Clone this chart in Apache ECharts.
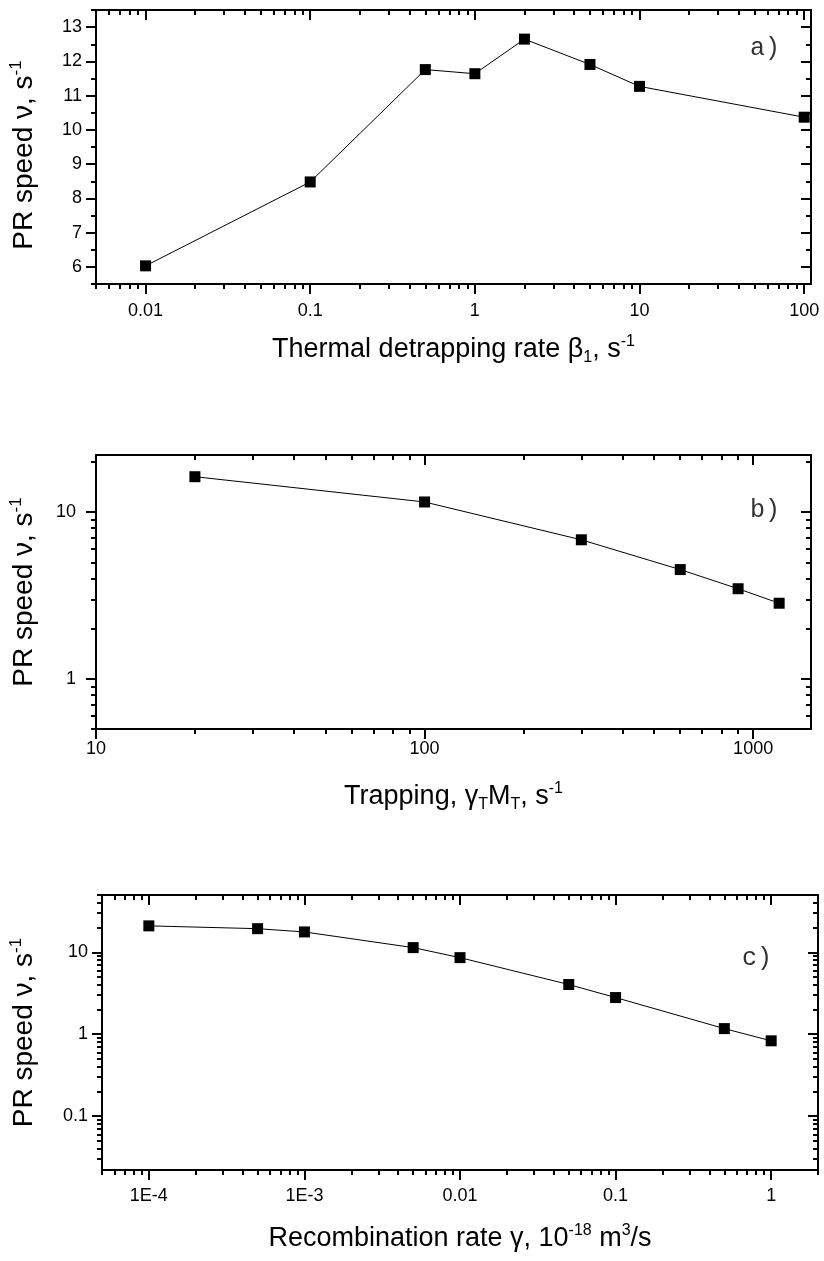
<!DOCTYPE html>
<html>
<head>
<meta charset="utf-8">
<script src="https://cdn.jsdelivr.net/npm/echarts@6/dist/echarts.min.js"></script>
<style>
  html, body { margin: 0; padding: 0; background: #fff; }
  #chart { width: 824px; height: 1261px; }
</style>
</head>
<body>
<div id="chart"></div>
<script>
// (a) PR speed vs thermal detrapping rate
const detrapRate = [0.01, 0.1, 0.5, 1, 2, 5, 10, 100];
const speedA = [6.03, 8.48, 11.76, 11.64, 12.65, 11.91, 11.27, 10.37];

// (b) PR speed vs trapping rate
const trapRate = [20, 100, 300, 600, 900, 1200];
const speedB = [16.3, 11.5, 6.82, 4.52, 3.47, 2.84];

// (c) PR speed vs recombination rate
const recombRate = [1e-4, 5e-4, 1e-3, 5e-3, 0.01, 0.05, 0.1, 0.5, 1];
const speedC = [21.0, 19.4, 17.7, 11.4, 8.6, 4.04, 2.8, 1.17, 0.83];

// tick labels
const aXTicks = [0.01, 0.1, 1, 10, 100];
const aXTickText = ['0.01', '0.1', '1', '10', '100'];
const aYTicks = [6, 7, 8, 9, 10, 11, 12, 13];
const aYTickText = ['6', '7', '8', '9', '10', '11', '12', '13'];
const bXTicks = [10, 100, 1000];
const bXTickText = ['10', '100', '1000'];
const bYTicks = [1, 10];
const bYTickText = ['1', '10'];
const cXTicks = [1e-4, 1e-3, 0.01, 0.1, 1];
const cXTickText = ['1E-4', '1E-3', '0.01', '0.1', '1'];
const cYTicks = [0.1, 1, 10];
const cYTickText = ['0.1', '1', '10'];

const FONT = '"Liberation Sans", Arial, sans-serif';
const MONO = '"Liberation Mono", "Courier New", monospace';

// minor ticks at 2..9 times each power of ten inside [lo, hi]
function logMinor(lo, hi) {
  const out = [];
  for (let e = Math.floor(Math.log10(lo)) - 1; e <= Math.ceil(Math.log10(hi)); e++) {
    for (let k = 2; k <= 9; k++) {
      const v = Number((k * Math.pow(10, e)).toPrecision(10));
      if (v >= lo * 0.9999 && v <= hi * 1.0001) out.push(v);
    }
  }
  return out;
}
function linMinor(lo, hi, step) {
  const out = [];
  for (let v = lo; v <= hi + 1e-9; v += step) out.push(Number(v.toFixed(6)));
  return out;
}

function labelFor(ticks, texts) {
  return function (v) {
    let best = 0, bd = Infinity;
    ticks.forEach(function (t, i) {
      const d = Math.abs(Math.log(Math.abs(v) + 1e-30) - Math.log(Math.abs(t) + 1e-30));
      if (d < bd) { bd = d; best = i; }
    });
    return texts[best];
  };
}

const lineStyle = { color: '#000', width: 2 };

// one axis of a frame: major (with optional labels/line) or minor ticks
function frameAxis(o) {
  return {
    type: o.type,
    gridIndex: o.grid,
    position: o.position,
    min: o.min,
    max: o.max,
    name: o.name || '',
    nameLocation: 'middle',
    nameGap: o.nameGap || 0,
    nameRotate: o.nameRotate,
    nameMoveOverlap: false,
    nameTextStyle: o.nameTextStyle,
    axisLine: { show: !!o.line, onZero: false, lineStyle: lineStyle },
    axisTick: {
      show: true,
      inside: !!o.inside,
      length: o.len,
      customValues: o.ticks,
      lineStyle: { color: '#000', width: 2 }
    },
    axisLabel: o.labels ? {
      show: true,
      customValues: o.labels,
      formatter: labelFor(o.labels, o.labelText),
      margin: o.margin,
      color: '#000',
      fontFamily: FONT,
      fontSize: 18
    } : { show: false },
    splitLine: { show: false },
    minorTick: { show: false },
    minorSplitLine: { show: false },
    silent: true
  };
}

function yNameStyle(pad) {
  return {
    color: '#000',
    fontFamily: FONT,
    fontSize: 28,
    padding: pad,
    rich: {
      m: { fontFamily: FONT, fontSize: 28, color: '#000', lineHeight: 32 },
      sup: { fontFamily: FONT, fontSize: 17, color: '#000', verticalAlign: 'top', lineHeight: 17 }
    }
  };
}
const xNameStyle = {
  color: '#000',
  fontFamily: FONT,
  fontSize: 27,
  rich: {
    m: { fontFamily: FONT, fontSize: 27, color: '#000', lineHeight: 32 },
    sup: { fontFamily: FONT, fontSize: 16, color: '#000', verticalAlign: 'top', lineHeight: 16 },
    sub: { fontFamily: FONT, fontSize: 16, color: '#000', verticalAlign: 'bottom', lineHeight: 16 }
  }
};
const yName = '{m|PR speed ν, s}{sup|-1}';

const panels = [
  {
    grid: { left: 96, right: 13, top: 10, height: 274 },
    x: { type: 'log', min: 0.005, max: 110, labels: aXTicks, labelText: aXTickText, minor: logMinor(0.005, 110), margin: 18,
         name: '{m|Thermal detrapping rate β}{sub|1}{m|, s}{sup|-1}', nameGap: 50 },
    y: { type: 'value', min: 5.5, max: 13.5, labels: aYTicks, labelText: aYTickText, minor: linMinor(5.5, 13.5, 0.5), margin: 14,
         nameGap: 56, pad: [0, 16, 0, 0] },
    xs: detrapRate, ys: speedA
  },
  {
    grid: { left: 96, right: 13, top: 455, height: 274 },
    x: { type: 'log', min: 10, max: 1500, labels: bXTicks, labelText: bXTickText, minor: logMinor(10, 1500), margin: 11,
         name: '{m|Trapping, γ}{sub|T}{m|M}{sub|T}{m|, s}{sup|-1}', nameGap: 52 },
    y: { type: 'log', min: 0.5, max: 22, labels: bYTicks, labelText: bYTickText, minor: logMinor(0.5, 22), margin: 20,
         nameGap: 56, pad: [0, 0, 0, 0] },
    xs: trapRate, ys: speedB
  },
  {
    grid: { left: 102, right: 6, top: 895, height: 275 },
    x: { type: 'log', min: 5e-5, max: 2, labels: cXTicks, labelText: cXTickText, minor: logMinor(5e-5, 2), margin: 17,
         name: '{m|Recombination rate γ, 10}{sup|-18}{m| m}{sup|3}{m|/s}', nameGap: 53 },
    y: { type: 'log', min: 0.022, max: 50, labels: cYTicks, labelText: cYTickText, minor: logMinor(0.022, 50), margin: 14,
         nameGap: 62, pad: [0, 0, 0, 0] },
    xs: recombRate, ys: speedC
  }
];

const grids = [], xAxes = [], yAxes = [], series = [];
panels.forEach(function (p, gi) {
  grids.push(Object.assign({ outerBoundsMode: 'none', containLabel: false }, p.grid));
  const xi = xAxes.length, yi = yAxes.length;
  // bottom: major with labels and title, then minor
  xAxes.push(frameAxis({ type: p.x.type, grid: gi, position: 'bottom', min: p.x.min, max: p.x.max, line: true,
    len: 10, ticks: p.x.labels, labels: p.x.labels, labelText: p.x.labelText, margin: p.x.margin,
    name: p.x.name, nameGap: p.x.nameGap, nameTextStyle: xNameStyle }));
  xAxes.push(frameAxis({ type: p.x.type, grid: gi, position: 'bottom', min: p.x.min, max: p.x.max, len: 5, ticks: p.x.minor }));
  // top mirror: ticks pointing inward
  xAxes.push(frameAxis({ type: p.x.type, grid: gi, position: 'top', min: p.x.min, max: p.x.max, line: true, inside: true, len: 10, ticks: p.x.labels }));
  xAxes.push(frameAxis({ type: p.x.type, grid: gi, position: 'top', min: p.x.min, max: p.x.max, inside: true, len: 5, ticks: p.x.minor }));
  // left: major with labels and title, then minor
  yAxes.push(frameAxis({ type: p.y.type, grid: gi, position: 'left', min: p.y.min, max: p.y.max, line: true,
    len: 10, ticks: p.y.labels, labels: p.y.labels, labelText: p.y.labelText, margin: p.y.margin,
    name: yName, nameGap: p.y.nameGap, nameRotate: 90, nameTextStyle: yNameStyle(p.y.pad) }));
  yAxes.push(frameAxis({ type: p.y.type, grid: gi, position: 'left', min: p.y.min, max: p.y.max, len: 5, ticks: p.y.minor }));
  // right mirror
  yAxes.push(frameAxis({ type: p.y.type, grid: gi, position: 'right', min: p.y.min, max: p.y.max, line: true, inside: true, len: 10, ticks: p.y.labels }));
  yAxes.push(frameAxis({ type: p.y.type, grid: gi, position: 'right', min: p.y.min, max: p.y.max, inside: true, len: 5, ticks: p.y.minor }));

  series.push({
    type: 'line',
    xAxisIndex: xi,
    yAxisIndex: yi,
    data: p.xs.map(function (x, i) { return [x, p.ys[i]]; }),
    symbol: 'rect',
    symbolSize: 11,
    showAllSymbol: true,
    itemStyle: { color: '#000', borderColor: '#000', borderWidth: 0 },
    lineStyle: { color: '#000', width: 1 },
    emphasis: { disabled: true },
    z: 5
  });
});

const panelTag = function (text, x, y) {
  return {
    type: 'text',
    x: x, y: y,
    style: { text: text, fontFamily: MONO, fontSize: 25, fill: '#333', textAlign: 'center', textVerticalAlign: 'middle' },
    silent: true
  };
};

const chart = echarts.init(document.getElementById('chart'), null, { renderer: 'canvas' });
chart.setOption({
  animation: false,
  backgroundColor: '#fff',
  grid: grids,
  xAxis: xAxes,
  yAxis: yAxes,
  series: series,
  graphic: [
    panelTag('a)', 765, 48),
    panelTag('b)', 765, 510),
    panelTag('c)', 757, 958)
  ]
});
</script>
</body>
</html>
